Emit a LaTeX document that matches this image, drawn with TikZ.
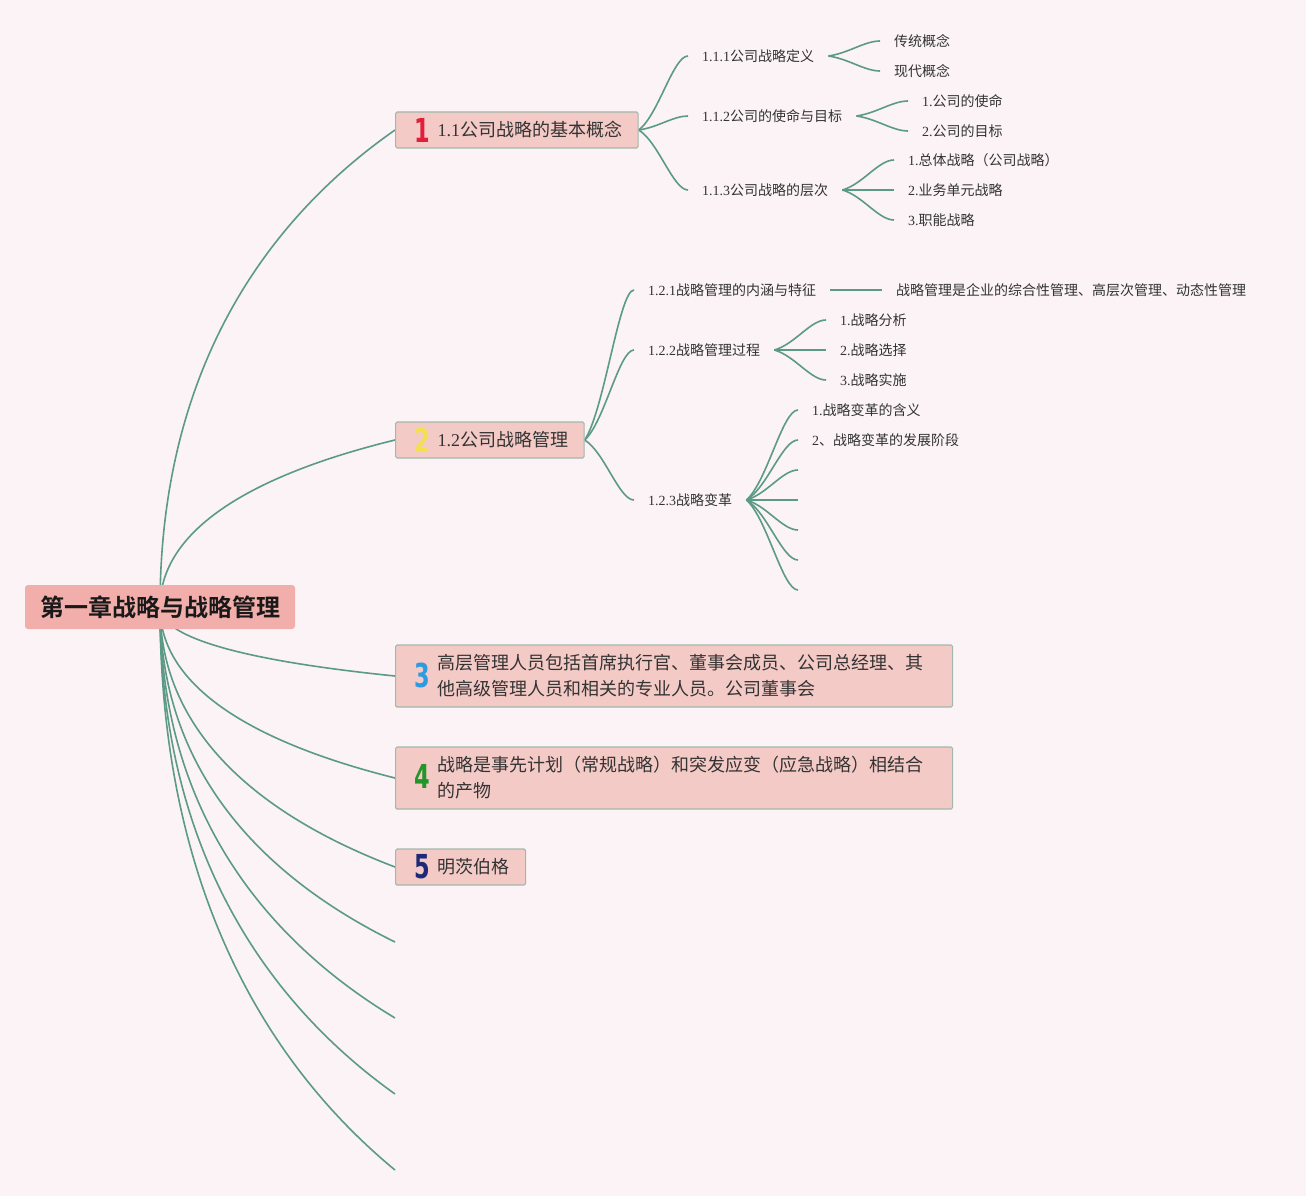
\documentclass[tikz,border=0pt]{standalone}
\usepackage{fontspec}
\usepackage{graphicx}
\setmainfont{Noto Sans CJK SC}[BoldFont={Noto Sans CJK SC Bold}]
\newfontfamily\latin{Liberation Serif}
\newfontfamily\iconfont{DejaVu Sans}
\usetikzlibrary{calc,backgrounds}

\definecolor{pagebg}{HTML}{FBF3F5}
\definecolor{boxfill}{HTML}{F4CAC6}
\definecolor{boxline}{HTML}{A2B8AC}
\definecolor{rootfill}{HTML}{F2AEAA}
\definecolor{linkcol}{HTML}{5B9A86}
\definecolor{inkcol}{HTML}{333333}
\definecolor{icred}{HTML}{E21F3B}
\definecolor{icyellow}{HTML}{F3E04E}
\definecolor{icblue}{HTML}{2C9BE0}
\definecolor{icgreen}{HTML}{23962B}
\definecolor{icnavy}{HTML}{1C2A78}

\newcommand\secno[1]{{\latin #1}}
\newcommand\icon[2]{\raisebox{\dimexpr6.8pt-0.5\height\relax}{\makebox[21pt]{\iconfont\bfseries\fontsize{33}{33}\selectfont\color{#1}\scalebox{0.68}[1]{#2}}}\hspace{5pt}}
\newcommand\twolines[1]{\raisebox{\dimexpr6.5pt-0.5\height\relax}{\parbox[b]{499pt}{#1}}}
% curve from the root centre to a main topic
\newcommand\rootlink[2]{\draw[link] let \p1=(#1), \p2=(#2) in (\p1) .. controls (\x1,{\y1+0.55*(\y2-\y1)}) and ({\x2-0.45*(\x2-\x1)},{\y2-0.155*(\y2-\y1)}) .. (\p2);}
% curve from a topic to one of its subtopics
\newcommand\fan[2]{\draw[link] let \p1=(#1), \p2=(#2) in (\p1) .. controls ({\x1+0.4*(\x2-\x1)},{\y1+0.2*(\y2-\y1)}) and ({\x2-0.3*(\x2-\x1)},\y2) .. (\p2);}

\tikzset{
  root/.style={fill=rootfill, rounded corners=3pt, minimum height=44pt, inner xsep=15pt, inner ysep=0pt,
    font=\bfseries\fontsize{24}{24}\selectfont, text=black!90},
  topic/.style={anchor=west, fill=boxfill, draw=boxline, line width=1.2pt, rounded corners=1.5pt,
    minimum height=36pt, inner xsep=16pt, inner ysep=0pt, font=\fontsize{18}{26}\selectfont, text=inkcol},
  label/.style={anchor=west, inner xsep=14pt, inner ysep=2pt, font=\fontsize{14}{14}\selectfont, text=inkcol},
  link/.style={draw=linkcol, line width=1.6pt},
}

\begin{document}
\begin{tikzpicture}[x=1pt,y=1pt]
  \useasboundingbox (0,0) rectangle (1306,-1196);
  \begin{scope}[on background layer]
    \fill[pagebg] (0,0) rectangle (1306,-1196);
  \end{scope}

  \node[root] (root) at (160,-607) {第一章战略与战略管理};

  % main topics
  \node[topic] (t1) at (395,-130) {\icon{icred}{1}\secno{1.1}公司战略的基本概念};
  \node[topic] (t2) at (395,-440) {\icon{icyellow}{2}\secno{1.2}公司战略管理};
  \node[topic, minimum height=62pt] (t3) at (395,-676) {\icon{icblue}{3}\twolines{高层管理人员包括首席执行官、董事会成员、公司总经理、其\\他高级管理人员和相关的专业人员。公司董事会}};
  \node[topic, minimum height=62pt] (t4) at (395,-778) {\icon{icgreen}{4}\twolines{战略是事先计划（常规战略）和突发应变（应急战略）相结合\\的产物}};
  \node[topic] (t5) at (395,-867) {\icon{icnavy}{5}明茨伯格};
  \coordinate (e1) at (395,-942);
  \coordinate (e2) at (395,-1018);
  \coordinate (e3) at (395,-1094);
  \coordinate (e4) at (395,-1170);

  % 1.1
  \node[label] (s111) at (688,-56) {\secno{1.1.1}公司战略定义};
  \node[label] (s112) at (688,-116) {\secno{1.1.2}公司的使命与目标};
  \node[label] (s113) at (688,-190) {\secno{1.1.3}公司战略的层次};
  \node[label] (a1) at (880,-41) {传统概念};
  \node[label] (a2) at (880,-71) {现代概念};
  \node[label] (b1) at (908,-101) {\secno{1.}公司的使命};
  \node[label] (b2) at (908,-131) {\secno{2.}公司的目标};
  \node[label] (h1) at (894,-160) {\secno{1.}总体战略（公司战略）};
  \node[label] (h2) at (894,-190) {\secno{2.}业务单元战略};
  \node[label] (h3) at (894,-220) {\secno{3.}职能战略};

  % 1.2
  \node[label] (s121) at (634,-290) {\secno{1.2.1}战略管理的内涵与特征};
  \node[label] (s122) at (634,-350) {\secno{1.2.2}战略管理过程};
  \node[label] (s123) at (634,-500) {\secno{1.2.3}战略变革};
  \node[label] (d1) at (882,-290) {战略管理是企业的综合性管理、高层次管理、动态性管理};
  \node[label] (p1) at (826,-320) {\secno{1.}战略分析};
  \node[label] (p2) at (826,-350) {\secno{2.}战略选择};
  \node[label] (p3) at (826,-380) {\secno{3.}战略实施};
  \node[label] (c1) at (798,-410) {\secno{1.}战略变革的含义};
  \node[label] (c2) at (798,-440) {\secno{2}、战略变革的发展阶段};
  \foreach \k in {3,...,7}
    \coordinate (c\k) at (798,{-410-30*(\k-1)});

  \begin{scope}[on background layer]
    \foreach \kid in {t1,t2,t3,t4,t5,e1,e2,e3,e4}
      {\rootlink{root.center}{\kid.west}}
    \foreach \kid in {s111,s112,s113}
      {\fan{t1.east}{\kid.west}}
    \foreach \kid in {s121,s122,s123}
      {\fan{t2.east}{\kid.west}}
    \foreach \kid in {a1,a2}
      {\fan{s111.east}{\kid.west}}
    \foreach \kid in {b1,b2}
      {\fan{s112.east}{\kid.west}}
    \foreach \kid in {h1,h2,h3}
      {\fan{s113.east}{\kid.west}}
    \fan{s121.east}{d1.west}
    \foreach \kid in {p1,p2,p3}
      {\fan{s122.east}{\kid.west}}
    \foreach \k in {1,...,7}
      {\fan{s123.east}{c\k.west}}
  \end{scope}
\end{tikzpicture}
\end{document}
